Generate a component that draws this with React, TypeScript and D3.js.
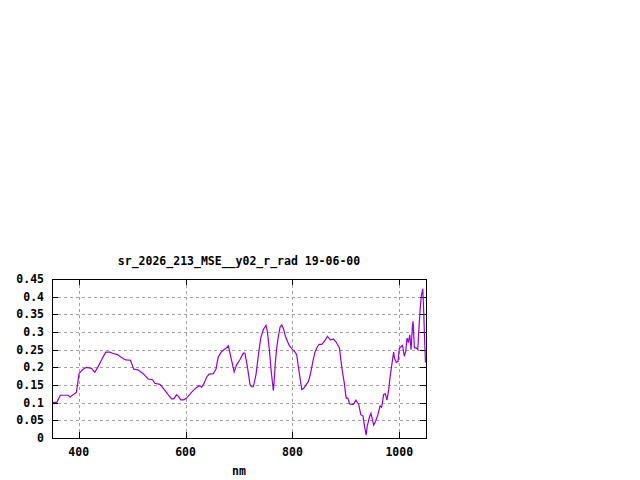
import React, { useEffect, useRef } from 'react'
import * as d3 from 'd3'

// wavelength (nm) and radiance
const wavelength = [
  350, 359, 365.6, 380, 384, 389, 395.6, 400.6, 406.8, 414.4, 423.8, 430, 436.3, 442.6, 450.6, 458,
  464.4, 472.5, 480, 488, 496.9, 503, 511, 520.6, 530, 538, 542.6, 552, 558, 567.6, 573.8, 578,
  583, 586, 591, 596.8, 601.9, 611, 619, 625.6, 630, 634, 639.4, 644, 651.9, 657, 661, 667.6,
  675, 680, 684.4, 691, 695.6, 701.9, 708, 711, 715.6, 720.6, 723.7, 726.8, 731.8, 736, 740.6,
  745.6, 750.6, 753, 756.8, 760, 762.4, 764.3, 765.6, 768, 770.6, 773.7, 776.9, 780, 783, 786.8,
  790.6, 794, 798.6, 805, 808, 811, 814.6, 817.6, 820.8, 825.8, 830, 833.4, 836.5, 839.6, 842.7,
  847, 850, 855, 860, 865.6, 870.6, 876.9, 882, 888, 892.5, 897, 900.6, 903.7, 907, 911, 914,
  918.8, 924, 928, 932, 935, 938, 940, 944, 947, 950, 952, 955, 960, 964, 967, 970.7, 974, 977,
  980, 983, 986, 989.4, 991, 994.5, 997.6, 1000, 1004, 1006, 1009.5, 1012, 1014.5, 1017, 1019.6,
  1022, 1024.6, 1025.8, 1028.3, 1031.5, 1034.6, 1037, 1039.6, 1041.5, 1044, 1045.8, 1047.7, 1049, 1050,
]
const radiance = [
  0.101, 0.101, 0.121, 0.121, 0.116, 0.122, 0.129, 0.182, 0.193, 0.2, 0.197, 0.186, 0.202, 0.221, 0.243, 0.243,
  0.239, 0.236, 0.228, 0.221, 0.22, 0.195, 0.193, 0.182, 0.167, 0.165, 0.155, 0.152, 0.141, 0.122, 0.111, 0.111,
  0.122, 0.119, 0.108, 0.108, 0.113, 0.129, 0.141, 0.148, 0.144, 0.153, 0.172, 0.181, 0.182, 0.195, 0.229, 0.245,
  0.253, 0.261, 0.231, 0.187, 0.207, 0.222, 0.24, 0.24, 0.203, 0.151, 0.145, 0.145, 0.179, 0.231, 0.283,
  0.307, 0.319, 0.302, 0.25, 0.193, 0.16, 0.134, 0.157, 0.213, 0.255, 0.288, 0.314, 0.32, 0.311, 0.288,
  0.274, 0.262, 0.253, 0.243, 0.236, 0.203, 0.166, 0.137, 0.14, 0.151, 0.16, 0.179, 0.203, 0.226, 0.245,
  0.259, 0.265, 0.265, 0.274, 0.288, 0.278, 0.28, 0.271, 0.255, 0.198, 0.156, 0.113, 0.113, 0.097, 0.095, 0.095,
  0.107, 0.095, 0.066, 0.062, 0.033, 0.008, 0.034, 0.058, 0.07, 0.05, 0.036, 0.045, 0.066, 0.091, 0.087, 0.123, 0.125, 0.107,
  0.135, 0.175, 0.207, 0.243, 0.226, 0.214, 0.217, 0.253, 0.26, 0.262, 0.231, 0.245, 0.283, 0.27, 0.292,
  0.25, 0.316, 0.33, 0.255, 0.255, 0.25, 0.316, 0.377, 0.405, 0.422, 0.354, 0.264, 0.214, 0.22,
]
const xTicks = [400, 600, 800, 1000]
const yTicks = [0, 0.05, 0.1, 0.15, 0.2, 0.25, 0.3, 0.35, 0.4, 0.45]

export default function App() {
  const ref = useRef<SVGSVGElement | null>(null)

  useEffect(() => {
    document.body.style.margin = '0'
    const svg = d3.select(ref.current!)
    svg.selectAll('*').remove()
    const width = 640
    const height = 480
    const margin = { top: 279, right: 214, bottom: 42, left: 52 }
    const font = '"DejaVu Sans Mono", monospace'

    const x = d3.scaleLinear().domain([350, 1050]).range([margin.left, width - margin.right])
    const y = d3.scaleLinear().domain([0, 0.45]).range([height - margin.bottom, margin.top])
    const [x0, x1] = x.range()
    const [y0, y1] = y.range()

    svg.append('rect').attr('width', width).attr('height', height).attr('fill', '#fff')

    const grid = svg.append('g').attr('stroke', '#a0a0a0').attr('stroke-dasharray', '3,3').attr('shape-rendering', 'crispEdges')
    grid.selectAll('line.gx').data(xTicks).enter().append('line')
      .attr('x1', d => Math.round(x(d)) + 0.5).attr('x2', d => Math.round(x(d)) + 0.5)
      .attr('y1', y1).attr('y2', y0)
    grid.selectAll('line.gy').data(yTicks.slice(1, -1)).enter().append('line')
      .attr('x1', x0).attr('x2', x1)
      .attr('y1', d => Math.round(y(d)) + 0.5).attr('y2', d => Math.round(y(d)) + 0.5)

    const ticks = svg.append('g').attr('stroke', '#000').attr('shape-rendering', 'crispEdges')
    yTicks.forEach(t => {
      const yy = Math.round(y(t)) + 0.5
      ticks.append('line').attr('x1', x0).attr('x2', x0 + 6).attr('y1', yy).attr('y2', yy)
      ticks.append('line').attr('x1', x1 - 6).attr('x2', x1).attr('y1', yy).attr('y2', yy)
    })
    xTicks.forEach(t => {
      const xx = Math.round(x(t)) + 0.5
      ticks.append('line').attr('x1', xx).attr('x2', xx).attr('y1', y0).attr('y2', y0 - 6)
      ticks.append('line').attr('x1', xx).attr('x2', xx).attr('y1', y1).attr('y2', y1 + 6)
    })

    const line = d3.line<number>().x((_, i) => x(wavelength[i])).y(d => y(d))
    svg.append('path').datum(radiance).attr('d', line).attr('fill', 'none')
      .attr('stroke', '#9400d3').attr('stroke-width', 1.2)

    svg.append('rect').attr('x', x0 + 0.5).attr('y', y1 + 0.5).attr('width', x1 - x0).attr('height', y0 - y1)
      .attr('fill', 'none').attr('stroke', '#000').attr('shape-rendering', 'crispEdges')

    const labels = svg.append('g').attr('font-family', font).attr('font-size', 11.5).attr('font-weight', 700).attr('fill', '#000')
    labels.selectAll('text.yl').data(yTicks).enter().append('text')
      .attr('x', 44).attr('y', d => y(d) + 4).attr('text-anchor', 'end').text(d => String(d))
    labels.selectAll('text.xl').data(xTicks).enter().append('text')
      .attr('x', d => x(d)).attr('y', 456).attr('text-anchor', 'middle').text(d => String(d))
    labels.append('text').attr('x', (x0 + x1) / 2).attr('y', 265).attr('text-anchor', 'middle')
      .text('sr_2026_213_MSE__y02_r_rad 19-06-00')
    labels.append('text').attr('x', (x0 + x1) / 2).attr('y', 475).attr('text-anchor', 'middle').text('nm')
  }, [])

  return <svg ref={ref} width={640} height={480} style={{ display: 'block' }} />
}
